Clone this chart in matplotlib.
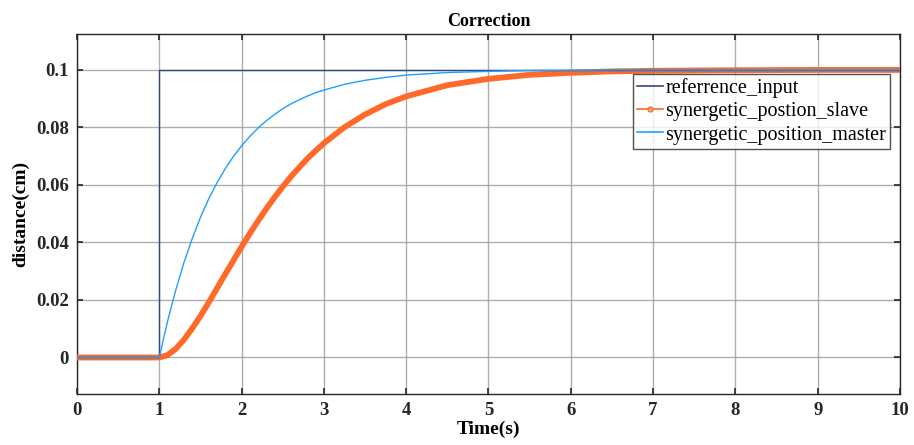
import matplotlib
matplotlib.use("Agg")
import matplotlib.pyplot as plt
from matplotlib.lines import Line2D

# time samples (s)
time_s = [0, 1.0, 1.1, 1.2, 1.3, 1.4, 1.5, 1.6, 1.7, 1.8, 1.9, 2.0,
          2.1, 2.2, 2.3, 2.4, 2.5, 2.6, 2.7, 2.8, 2.9, 3.0,
          3.25, 3.5, 3.75, 4.0, 4.5, 5.0, 5.5, 6.0,
          6.5, 7.0, 8.0, 9.0, 10.0]
master_pos = [0, 0, 0.0125, 0.0234, 0.0330, 0.0413, 0.0487, 0.0551, 0.0607,
              0.0656, 0.0699, 0.0736,
              0.0769, 0.0798, 0.0823, 0.0845, 0.0865, 0.0882, 0.0896, 0.0909,
              0.0921, 0.0930,
              0.0950, 0.0964, 0.0974, 0.0982, 0.0991, 0.0995, 0.0998, 0.0999,
              0.1, 0.1, 0.1, 0.1, 0.1]
slave_pos = [0, 0, 0.0008, 0.0030, 0.0062, 0.0101, 0.0144, 0.0191, 0.0240,
             0.0289, 0.0337, 0.0385,
             0.0431, 0.0475, 0.0517, 0.0557, 0.0594, 0.0629, 0.0661, 0.0692,
             0.0719, 0.0745,
             0.0801, 0.0845, 0.0881, 0.0908, 0.0947, 0.0969, 0.0983, 0.0990,
             0.0995, 0.0997, 0.0999, 0.1, 0.1]

# step reference
ref_t = [0, 1, 1, 10]
ref_y = [0, 0, 0.1, 0.1]

x_ticks = [0, 1, 2, 3, 4, 5, 6, 7, 8, 9, 10]
y_ticks = [0, 0.02, 0.04, 0.06, 0.08, 0.1]
y_tick_labels = ["0", "0.02", "0.04", "0.06", "0.08", "0.1"]

plt.rcParams['font.family'] = ['Liberation Serif', 'DejaVu Serif']
plt.rcParams['font.weight'] = 'bold'

fig = plt.figure(figsize=(9.14, 4.45), dpi=100)
ax = fig.add_axes([0.0842, 0.1146, 0.9005, 0.809])

c_ref = '#34487f'
c_slave = '#ff6a2b'
c_master = '#1e9fff'

ax.plot(time_s, slave_pos, color=c_slave, lw=4.2, solid_joinstyle='round', zorder=3)
ax.plot(ref_t, ref_y, color=c_ref, lw=1.0, zorder=4)
ax.plot(time_s, master_pos, color=c_master, lw=1.0, zorder=4)

ax.set_xlim(0, 10)
ax.set_ylim(-0.0127, 0.1125)
ax.set_xticks(x_ticks)
ax.set_yticks(y_ticks)
ax.set_yticklabels(y_tick_labels)

ax.grid(True, color='#9a9a9a', lw=1.0, alpha=0.8)
ax.set_axisbelow(True)
for s in ax.spines.values():
    s.set_color('#262626')
    s.set_linewidth(1.0)
ax.tick_params(direction='in', length=4, width=1.2, top=True, right=True,
               labelsize=13.5, colors='#262626', pad=6)
for lab in ax.get_xticklabels() + ax.get_yticklabels():
    lab.set_fontweight('bold')

ax.set_title('Correction', fontsize=13, fontweight='bold', pad=6)
ax.set_xlabel('Time(s)', fontsize=14, fontweight='bold', labelpad=1)
ax.set_ylabel('distance(cm)', fontsize=14, fontweight='bold', labelpad=5)

handles = [
    Line2D([], [], color=c_ref, lw=1.2),
    Line2D([], [], color=c_slave, lw=1.2, marker='o', markersize=3.5,
           markerfacecolor='#ffb08a', markeredgecolor=c_slave),
    Line2D([], [], color=c_master, lw=1.2),
]
labels = ['referrence_input', 'synergetic_postion_slave',
          'synergetic_position_master']
leg = ax.legend(handles, labels, loc='upper right',
                bbox_to_anchor=(0.988, 0.888),
                prop={'family': ['Liberation Serif'], 'weight': 'normal', 'size': 14.5},
                frameon=True, fancybox=False, handlelength=1.3,
                handletextpad=0.1, borderpad=0.2, labelspacing=0.2,
                borderaxespad=0.0)
leg.get_frame().set_edgecolor('#262626')
leg.get_frame().set_linewidth(1.0)

fig.savefig('out.png', dpi=100)
